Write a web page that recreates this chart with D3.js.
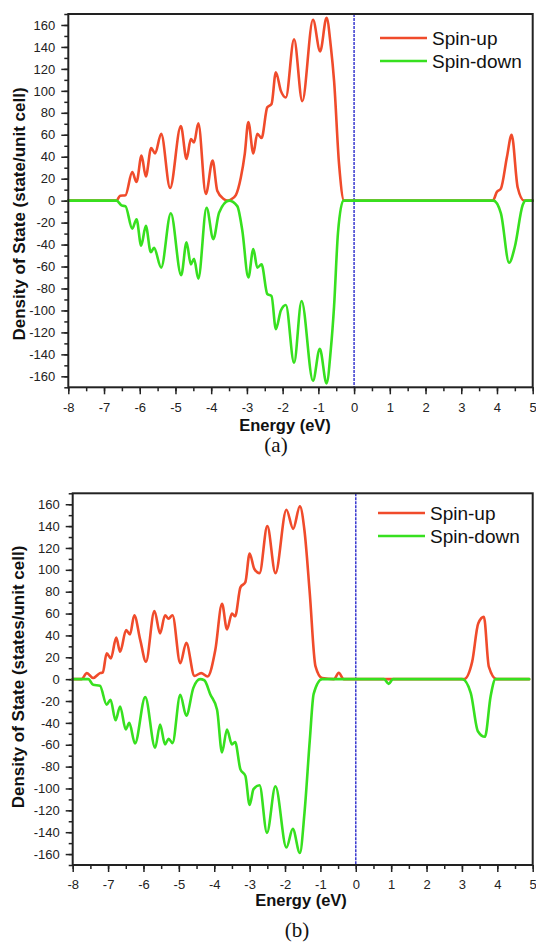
<!DOCTYPE html>
<html><head><meta charset="utf-8">
<script src="https://cdn.jsdelivr.net/npm/d3@7"></script>
<style>body{margin:0;background:#fff}svg{display:block}</style>
</head><body>
<svg id="c" width="536" height="945"></svg>
<script>
// ---------- data ----------
const xTicks = [-8,-7,-6,-5,-4,-3,-2,-1,0,1,2,3,4,5];
const yTicks = [-160,-140,-120,-100,-80,-60,-40,-20,0,20,40,60,80,100,120,140,160];
const seriesNames = ["Spin-up","Spin-down"];
const panelLabels = ["(a)","(b)"];
const yTitles = ["Density of State (state/unit cell)","Density of State (states/unit cell)"];
const xTitle = "Energy (eV)";

// panel (a)
const aUpE = [-8,-6.65,-6.55,-6.4,-6.21,-6.09,-5.95,-5.83,-5.68,-5.57,-5.40,-5.15,-4.85,-4.69,-4.57,-4.48,-4.36,-4.15,-3.96,-3.83,-3.65,-3.55,-3.45,-3.31,-3.17,-3.06,-2.96,-2.82,-2.71,-2.59,-2.43,-2.31,-2.19,-2.05,-1.91,-1.68,-1.45,-1.15,-0.95,-0.77,-0.65,-0.56,-0.42,-0.28,3.88,4.0,4.11,4.28,4.41,4.58,4.76,5.0];
const aUpV = [0,0,4.5,5,26,17,41,22,48,43,61,11.5,68,38,56,53,70.5,6,36.5,9,1.5,0,1,5,21,42.6,71.5,43,61,57,85,88,117,100,94,147,90.6,164.7,136,166.5,140,109,33,0,0,8,11,40,60,12,0,0];
const aDownE = [-8,-6.65,-6.5,-6.4,-6.21,-6.09,-5.96,-5.83,-5.69,-5.60,-5.40,-5.13,-4.84,-4.69,-4.57,-4.48,-4.36,-4.13,-3.94,-3.78,-3.5,-3.27,-3.13,-2.96,-2.82,-2.71,-2.59,-2.43,-2.31,-2.19,-2.05,-1.91,-1.68,-1.47,-1.15,-0.96,-0.77,-0.65,-0.56,-0.45,-0.30,3.9,4.11,4.34,4.5,4.72,4.8,5.0];
const aDownV = [0,0,-4.5,-5,-25.5,-17,-41,-23,-47,-43,-61,-11.5,-68,-38,-58,-53,-71,-6.4,-35,-11,0,-5,-27,-70,-44,-61,-58,-85,-87,-117,-100,-95,-147.7,-91.4,-164,-135,-166.5,-135,-96,-29,0,0,-11.5,-56.5,-42,-4,0,0];

// panel (b)
const bUpE = [-8,-7.75,-7.6,-7.42,-7.23,-7.15,-7.04,-6.92,-6.77,-6.66,-6.49,-6.38,-6.26,-6.09,-5.93,-5.69,-5.53,-5.39,-5.29,-5.18,-4.96,-4.79,-4.56,-4.37,-4.19,-3.97,-3.78,-3.64,-3.50,-3.41,-3.26,-3.12,-3.0,-2.87,-2.72,-2.50,-2.27,-1.96,-1.77,-1.58,-1.45,-1.30,-1.14,-0.95,-0.62,-0.48,-0.34,3.06,3.29,3.46,3.62,3.76,3.98,4.9];
const bUpV = [0,0,5.5,1,5.5,6,23.6,19,38,25,44.8,41,58.5,35.7,16,62.4,41.8,58.5,55.4,58.5,14.5,33.3,3,5.5,2.4,26.6,69,45.5,60,57.5,84,88.7,115,101,97,140,97,155,137.5,158,136,78.5,12,1,0,5.7,0,0,16,51,57,11.5,0,0];
const bDownE = [-8,-7.56,-7.42,-7.23,-7.04,-6.93,-6.79,-6.66,-6.50,-6.40,-6.24,-5.95,-5.67,-5.53,-5.39,-5.29,-5.18,-4.96,-4.79,-4.59,-4.40,-4.28,-4.11,-3.92,-3.78,-3.64,-3.50,-3.41,-3.26,-3.12,-3.0,-2.89,-2.72,-2.51,-2.27,-1.96,-1.78,-1.58,-1.45,-1.30,-1.19,-0.95,0.8,0.93,1.05,3.01,3.25,3.45,3.65,3.81,3.95,4.9];
const bDownV = [0,0,-5.2,-6,-23.4,-18.8,-37.6,-25,-46,-40,-58.8,-16.4,-62.8,-41.5,-59.7,-54.5,-58.5,-14.3,-33.4,-8,0,-1,-14,-28,-67,-46,-59.7,-57.5,-82.5,-88.5,-115,-100.6,-97,-140.6,-98,-154,-137,-159,-122.5,-56,-13.4,0,0,-4.3,0,0,-12.7,-47.6,-52.7,-15.8,0,0];

// ---------- drawing ----------
const colors = ["#f04b2b", "#37e01f"];
const svg = d3.select("#c");

const panels = [
  {left:68.3, right:532.7, top:14, bottom:387.3, up:[aUpE,aUpV], down:[aDownE,aDownV],
   yTitleX:25, yTitleY:214, xTitleX:285, xTitleY:431, labX:276, labY:452, legX:380, legY:38},
  {left:72.7, right:532.7, top:493.3, bottom:865, up:[bUpE,bUpV], down:[bDownE,bDownV],
   yTitleX:23.5, yTitleY:677, xTitleX:301, xTitleY:906, labX:297, labY:937, legX:378, legY:513}
];

panels.forEach((p, i) => {
  const x = d3.scaleLinear().domain([-8,5]).range([p.left, p.right]);
  const y = d3.scaleLinear().domain([-170,170]).range([p.bottom, p.top]);
  const g = svg.append("g");

  // minor ticks
  const minorX = d3.range(-8, 5.01, 0.5);
  const minorY = d3.range(-170, 171, 10);
  g.append("g").attr("transform", `translate(0,${p.bottom})`)
    .call(d3.axisBottom(x).tickValues(minorX).tickSize(4).tickFormat("").tickSizeOuter(0))
    .call(s => s.select(".domain").remove())
    .selectAll("line").attr("stroke","#222").attr("stroke-width",1.5);
  g.append("g").attr("transform", `translate(${p.left},0)`)
    .call(d3.axisLeft(y).tickValues(minorY).tickSize(4).tickFormat("").tickSizeOuter(0))
    .call(s => s.select(".domain").remove())
    .selectAll("line").attr("stroke","#222").attr("stroke-width",1.5);

  // major ticks
  const ax = g.append("g").attr("transform", `translate(0,${p.bottom})`)
    .call(d3.axisBottom(x).tickValues(xTicks).tickSize(7).tickPadding(8).tickSizeOuter(0).tickFormat(d => String(d)));
  ax.select(".domain").remove();
  ax.selectAll("line").attr("stroke","#222").attr("stroke-width",1.5);
  ax.selectAll("text").attr("font-family","Liberation Sans, Arial, sans-serif").attr("font-size",13).attr("fill","#222");

  const ay = g.append("g").attr("transform", `translate(${p.left},0)`)
    .call(d3.axisLeft(y).tickValues(yTicks).tickSize(7).tickPadding(6).tickSizeOuter(0).tickFormat(d => String(d)));
  ay.select(".domain").remove();
  ay.selectAll("line").attr("stroke","#222").attr("stroke-width",1.5);
  ay.selectAll("text").attr("font-family","Liberation Sans, Arial, sans-serif").attr("font-size",13).attr("fill","#222");

  // Fermi level line
  g.append("line")
    .attr("x1", x(0)).attr("x2", x(0)).attr("y1", p.top).attr("y2", p.bottom)
    .attr("stroke","#3a3ad0").attr("stroke-width",1.5).attr("stroke-dasharray","3,1");

  // curves
  const line = d3.line().x(d => x(d[0])).y(d => y(d[1])).curve(d3.curveMonotoneX);
  [p.up, p.down].forEach((s, k) => {
    const pts = s[0].map((e, j) => [e, s[1][j]]);
    g.append("path").datum(pts).attr("d", line)
      .attr("fill","none").attr("stroke", colors[k]).attr("stroke-width",2.6)
      .attr("stroke-linejoin","round").attr("stroke-linecap","round");
  });

  // frame
  g.append("rect").attr("x", p.left).attr("y", p.top)
    .attr("width", p.right - p.left).attr("height", p.bottom - p.top)
    .attr("fill","none").attr("stroke","#222").attr("stroke-width",2);

  // legend
  seriesNames.forEach((n, k) => {
    const ly = p.legY + k * 23;
    g.append("line").attr("x1", p.legX).attr("x2", p.legX + 47).attr("y1", ly).attr("y2", ly)
      .attr("stroke", colors[k]).attr("stroke-width", 2.6);
    g.append("text").attr("x", p.legX + 52).attr("y", ly + 6.5).text(n)
      .attr("font-family","Liberation Sans, Arial, sans-serif").attr("font-size",19).attr("fill","#111");
  });

  // titles
  g.append("text").attr("x", p.xTitleX).attr("y", p.xTitleY).attr("text-anchor","middle")
    .attr("font-family","Liberation Sans, Arial, sans-serif").attr("font-weight","bold").attr("font-size",16.5)
    .attr("fill","#111").text(xTitle);
  g.append("text").attr("transform", `translate(${p.yTitleX},${p.yTitleY}) rotate(-90)`).attr("text-anchor","middle")
    .attr("font-family","Liberation Sans, Arial, sans-serif").attr("font-weight","bold").attr("font-size",17)
    .attr("fill","#111").text(yTitles[i]);
  g.append("text").attr("x", p.labX).attr("y", p.labY).attr("text-anchor","middle")
    .attr("font-family","Liberation Serif, Times New Roman, serif").attr("font-size",21)
    .attr("fill","#111").text(panelLabels[i]);
});
</script>
</body></html>
